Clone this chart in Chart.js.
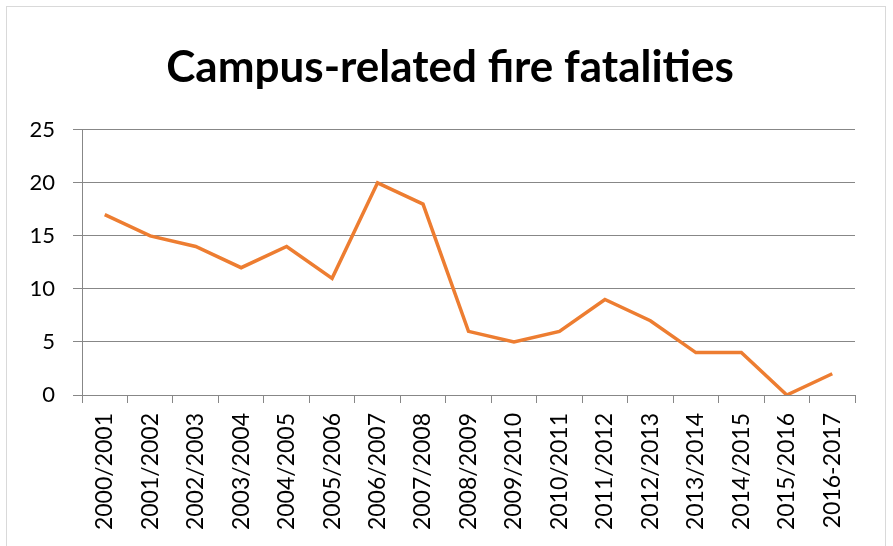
<!DOCTYPE html>
<html>
<head>
<meta charset="utf-8">
<script src="https://cdn.jsdelivr.net/npm/chart.js@4"></script>
<style>
  html, body { margin: 0; padding: 0; background: #fff; overflow: hidden; }
  #wrap { position: relative; width: 893px; height: 546px; }
  #frame { position: absolute; left: 6px; top: 6px; width: 880px; height: 560px; border: 1px solid #d9d9d9; box-sizing: border-box; }
  canvas { position: absolute; left: 0; top: 0; }
</style>
</head>
<body>
<div id="wrap">
  <div id="frame"></div>
  <canvas id="chart" width="893" height="546"></canvas>
</div>
<script>
// data
const seasons = ['2000/2001', '2001/2002', '2002/2003', '2003/2004', '2004/2005', '2005/2006',
  '2006/2007', '2007/2008', '2008/2009', '2009/2010', '2010/2011', '2011/2012',
  '2012/2013', '2013/2014', '2014/2015', '2015/2016', '2016-2017'];
const fatalities = [17, 15, 14, 12, 14, 11, 20, 18, 6, 5, 6, 9, 7, 4, 4, 0, 2];
const yTicks = [0, 5, 10, 15, 20, 25];

const gridGray = '#878787';
const fontFam = 'Lato, "Open Sans", sans-serif';

// title is centred on the whole frame, not on the padded area
const centreTitle = {
  id: 'centreTitle',
  afterLayout(chart) {
    const t = chart.titleBlock;
    if (!t) return;
    t.left = 7;
    t.right = chart.width;
    t.width = t.right - t.left;
  }
};

new Chart(document.getElementById('chart').getContext('2d'), {
  type: 'line',
  data: {
    labels: seasons,
    datasets: [{
      label: 'Fatalities',
      data: fatalities,
      borderColor: '#ed7d31',
      backgroundColor: '#ed7d31',
      borderWidth: 3.5,
      tension: 0,
      pointRadius: 0,
      fill: false
    }]
  },
  options: {
    responsive: false,
    animation: false,
    layout: { padding: { left: 0, right: 38, top: 0, bottom: 0 } },
    plugins: {
      legend: { display: false },
      tooltip: { enabled: false },
      title: {
        display: true,
        text: 'Campus-related fire fatalities',
        color: '#000',
        font: { family: fontFam, size: 44, weight: 'bold' },
        padding: { top: 41, bottom: 36 }
      }
    },
    scales: {
      x: {
        offset: true,
        grid: { offset: true, drawOnChartArea: false, drawTicks: true, tickLength: 8, color: gridGray },
        border: { display: true, color: gridGray },
        ticks: {
          color: '#000',
          font: { family: fontFam, size: 23 },
          maxRotation: 90, minRotation: 90,
          autoSkip: false,
          padding: 10
        },
        afterFit: function(scale) { scale.height = 151; }
      },
      y: {
        min: 0,
        max: 25,
        afterBuildTicks: function(scale) { scale.ticks = yTicks.map(v => ({ value: v })); },
        grid: { color: gridGray, tickLength: 9 },
        border: { display: true, color: gridGray },
        ticks: {
          color: '#000',
          font: { family: fontFam, size: 22 },
          padding: 18
        },
        afterFit: function(scale) { scale.width = 82; }
      }
    }
  },
  plugins: [centreTitle]
});
</script>
</body>
</html>
